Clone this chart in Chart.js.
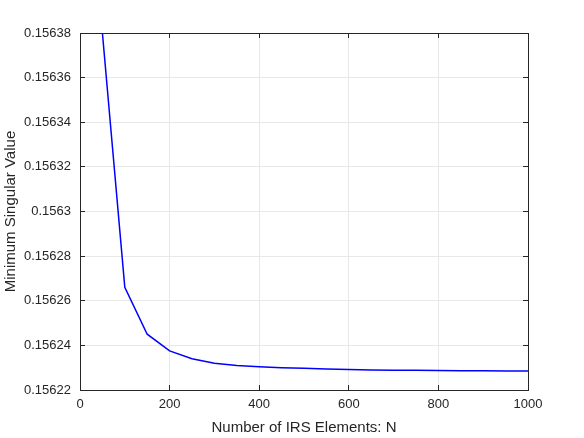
<!DOCTYPE html>
<html>
<head>
<meta charset="utf-8">
<script src="https://cdn.jsdelivr.net/npm/chart.js@4"></script>
<style>
  body { margin: 0; background: #fff; }
  canvas { display: block; }
</style>
</head>
<body>
<canvas id="chartLine" width="584" height="438"></canvas>
<script>
// values
const elements = [50, 100, 150, 200, 250, 300, 350, 400, 450, 500, 550, 600, 650, 700, 750, 800, 850, 900, 950, 1000];
const minSingular = [0.15638, 0.156266, 0.156245, 0.1562375, 0.156234, 0.156232, 0.156231, 0.1562304, 0.15623, 0.1562297,
                     0.1562294, 0.1562292, 0.156229, 0.1562289, 0.1562288, 0.1562287, 0.1562286, 0.1562286, 0.1562285, 0.1562285];
const xTicks = [0, 200, 400, 600, 800, 1000];
const yTicks = [0.15622, 0.15624, 0.15626, 0.15628, 0.1563, 0.15632, 0.15634, 0.15636, 0.15638];

const txt = "#262626";
const fam = "'Liberation Sans', Arial, sans-serif";
const tickFont = { family: fam, size: 13 };
const titleFont = { family: fam, size: 15 };

const points = elements.map(function(n, i) { return { x: n, y: minSingular[i] }; });

function fmt(v) {
    return parseFloat(v.toFixed(5)).toString();
}
function setX(s) { s.ticks = xTicks.map(function(v) { return { value: v }; }); }
function setY(s) { s.ticks = yTicks.map(function(v) { return { value: v }; }); }

const config = {
    type: "line",
    data: {
        datasets: [{
            data: points,
            borderColor: "#0000ff",
            backgroundColor: "#0000ff",
            borderWidth: 1.5,
            pointRadius: 0,
            tension: 0,
            fill: false,
        }]
    },
    options: {
        responsive: false,
        animation: false,
        events: [],
        layout: { padding: { top: 33, right: 56, left: 0, bottom: 0 } },
        plugins: { legend: { display: false }, tooltip: { enabled: false } },
        scales: {
            x: {
                type: "linear",
                min: 0, max: 1000,
                afterBuildTicks: setX,
                afterFit: function(s) { s.height = 48; },
                grid: { color: "#e8e8e8", tickColor: txt, tickLength: -5 },
                border: { color: txt, width: 1 },
                ticks: { color: txt, font: tickFont, padding: 12, maxRotation: 0, callback: function(v) { return String(v); } },
                title: { display: true, text: "Number of IRS Elements: N", color: txt, font: titleFont, padding: { top: 4, bottom: 1 } }
            },
            y: {
                type: "linear",
                min: 0.15622, max: 0.15638,
                afterBuildTicks: setY,
                afterFit: function(s) { s.width = 80; },
                grid: { color: "#e8e8e8", tickColor: txt, tickLength: -5 },
                border: { color: txt, width: 1 },
                ticks: { color: txt, font: tickFont, padding: 14, callback: function(v) { return fmt(v); } },
                title: { display: true, text: "Minimum Singular Value", color: txt, font: titleFont, padding: { top: 2, bottom: 0 } }
            },
            x2: {
                type: "linear", position: "top",
                min: 0, max: 1000,
                afterBuildTicks: setX,
                afterFit: function(s) { s.height = 0; },
                grid: { drawOnChartArea: false, tickColor: txt, tickLength: -5 },
                border: { color: txt, width: 1 },
                ticks: { display: false }
            },
            y2: {
                type: "linear", position: "right",
                min: 0.15622, max: 0.15638,
                afterBuildTicks: setY,
                afterFit: function(s) { s.width = 0; },
                grid: { drawOnChartArea: false, tickColor: txt, tickLength: -5 },
                border: { color: txt, width: 1 },
                ticks: { display: false }
            }
        }
    }
};

var chartLine = new Chart(document.getElementById("chartLine"), config);
</script>
</body>
</html>
